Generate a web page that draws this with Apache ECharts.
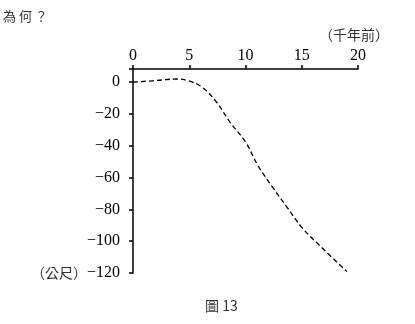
<!DOCTYPE html>
<html><head><meta charset="utf-8">
<script src="https://cdn.jsdelivr.net/npm/echarts@6/dist/echarts.min.js"></script>
<style>html,body{margin:0;padding:0;background:#fff}#c{width:415px;height:324px}</style>
</head><body><div id="c"></div>
<script>
const xTicks = [0, 5, 10, 15, 20];
const yTicks = [0, -20, -40, -60, -80, -100, -120];
const ages = [0, 1.8, 3.9, 4.9, 6.1, 7.4, 8.6, 10.0, 11.1, 12.5, 13.7, 15.0, 16.6, 19.0];
const depth = [0, 0.8, 1.9, 0.8, -3, -12.4, -25, -37.7, -52.4, -67, -78.7, -91.3, -102.8, -119];
const serif = '"Liberation Serif","DejaVu Serif",serif';
const cjk = '"Noto Sans CJK TC","Liberation Serif",serif';
const chart = echarts.init(document.getElementById('c'));
chart.setOption({
  animation: false,
  title: [
    {text: '為 何 ？', left: -2, top: 5, textStyle: {fontFamily: cjk, fontSize: 13, fontWeight: 'normal', color: '#333'}},
    {text: '圖 13', left: 200, top: 294, textStyle: {fontFamily: cjk, fontSize: 14, fontWeight: 'normal', color: '#333'}}
  ],
  grid: {left: 133, top: 69, right: 57, bottom: 51, outerBoundsMode: 'none', containLabel: false},
  xAxis: {
    type: 'value', position: 'top', min: 0, max: 20, interval: 5,
    name: '（千年前）', nameLocation: 'end', nameGap: 31,
    nameTextStyle: {fontFamily: cjk, fontSize: 14, color: '#333', align: 'right', verticalAlign: 'bottom', padding: [0, 0, 27, 0]},
    axisLine: {onZero: false, lineStyle: {color: '#000', width: 1.5}},
    axisTick: {length: 4, lineStyle: {color: '#000', width: 1.5}},
    axisLabel: {fontFamily: serif, fontSize: 16, color: '#000', margin: 5},
    splitLine: {show: false}
  },
  yAxis: {
    type: 'value', min: -120, max: 8.2, interval: 20,
    axisLine: {onZero: false, lineStyle: {color: '#000', width: 1.5}},
    axisTick: {length: 4, lineStyle: {color: '#000', width: 1.5}},
    axisLabel: {
      fontFamily: serif, fontSize: 16, color: '#000', margin: 13,
      formatter: v => {
        if (yTicks.indexOf(v) < 0) return '';
        const s = v < 0 ? '\u2212' + (-v) : String(v);
        return v === -120 ? '{u|（公尺）}' + s : s;
      },
      rich: {u: {fontFamily: cjk, fontSize: 14, color: '#333'}}
    },
    splitLine: {show: false}
  },
  series: [{
    type: 'line', data: ages.map((a, i) => [a, depth[i]]), smooth: 0.4,
    showSymbol: false, lineStyle: {color: '#000', width: 1.3, type: [5, 3]}
  }]
});
</script></body></html>
